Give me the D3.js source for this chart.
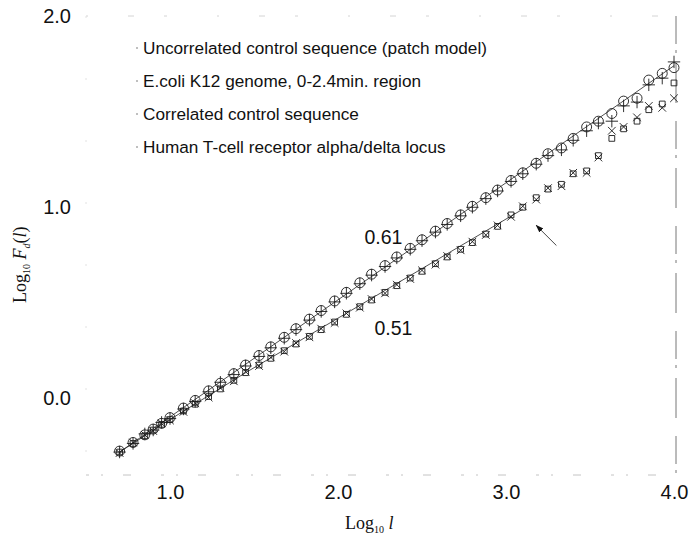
<!DOCTYPE html>
<html>
<head>
<meta charset="utf-8">
<script src="https://cdn.jsdelivr.net/npm/d3@7"></script>
<style>
  body { margin: 0; background: #fff; }
  svg { display: block; }
  .tick-label { font-family: "Liberation Sans", Arial, sans-serif; font-size: 20px; fill: #111; }
  .legend-text { font-family: "Liberation Sans", Arial, sans-serif; font-size: 17.2px; fill: #111; }
  .axis-title { font-family: "Liberation Serif", "Times New Roman", serif; font-size: 18px; fill: #111; }
  .slope { font-family: "Liberation Sans", Arial, sans-serif; font-size: 19.5px; fill: #111; }
</style>
</head>
<body>
<div id="chart"></div>
<script>
// log10 l for every point
const logL = [0.70, 0.78, 0.85, 0.90, 0.95, 1.00, 1.08, 1.15, 1.23, 1.30,
  1.38, 1.45, 1.53, 1.60, 1.68, 1.75, 1.83, 1.90, 1.98, 2.05,
  2.13, 2.20, 2.28, 2.35, 2.43, 2.50, 2.58, 2.65, 2.73, 2.80,
  2.88, 2.95, 3.03, 3.10, 3.18, 3.25, 3.33, 3.40, 3.48, 3.55,
  3.63, 3.70, 3.78, 3.85, 3.93, 4.00]

// log10 F_d(l)
const uncorrelated = [-0.28, -0.235, -0.195, -0.165, -0.135, -0.11, -0.065, -0.03, 0.01, 0.05,
  0.095, 0.135, 0.175, 0.21, 0.25, 0.285, 0.325, 0.36, 0.40, 0.44,
  0.48, 0.515, 0.555, 0.59, 0.63, 0.665, 0.705, 0.74, 0.78, 0.815,
  0.86, 0.90, 0.96, 1.00, 1.05, 1.095, 1.12, 1.175, 1.19, 1.27,
  1.36, 1.41, 1.45, 1.51, 1.54, 1.65]
const ecoli = [-0.285, -0.23, -0.19, -0.17, -0.13, -0.115, -0.07, -0.025, 0.005, 0.055,
  0.09, 0.14, 0.17, 0.215, 0.245, 0.29, 0.32, 0.365, 0.395, 0.445,
  0.475, 0.52, 0.55, 0.595, 0.625, 0.67, 0.70, 0.745, 0.775, 0.82,
  0.855, 0.905, 0.95, 1.005, 1.04, 1.10, 1.11, 1.18, 1.18, 1.26,
  1.40, 1.42, 1.47, 1.53, 1.52, 1.57]
const correlated = [-0.275, -0.23, -0.19, -0.16, -0.13, -0.10, -0.05, -0.01, 0.04, 0.08,
  0.13, 0.175, 0.225, 0.27, 0.32, 0.365, 0.415, 0.46, 0.51, 0.555,
  0.605, 0.65, 0.695, 0.74, 0.785, 0.83, 0.875, 0.915, 0.96, 1.005,
  1.05, 1.09, 1.14, 1.18, 1.23, 1.28, 1.31, 1.36, 1.42, 1.45,
  1.49, 1.555, 1.57, 1.665, 1.70, 1.73]
const human = [-0.28, -0.235, -0.185, -0.165, -0.125, -0.105, -0.055, -0.015, 0.035, 0.085,
  0.125, 0.17, 0.22, 0.265, 0.315, 0.36, 0.41, 0.455, 0.505, 0.55,
  0.60, 0.645, 0.69, 0.735, 0.78, 0.825, 0.87, 0.91, 0.955, 1.00,
  1.045, 1.085, 1.135, 1.175, 1.225, 1.27, 1.30, 1.35, 1.40, 1.44,
  1.45, 1.53, 1.55, 1.64, 1.675, 1.76]

const seriesNames = [
  "Uncorrelated control sequence (patch model)",
  "E.coli K12 genome, 0-2.4min. region",
  "Correlated control sequence",
  "Human T-cell receptor alpha/delta locus"
]

// straight fits drawn through the two groups
const fitUpperX = [0.70, 4.00]
const fitUpperY = [-0.28, 1.74]
const fitLowerX = [0.70, 1.00, 1.45, 3.10]
const fitLowerY = [-0.28, -0.11, 0.135, 0.99]
const slopeLabels = ["0.61", "0.51"]

const xTicks = [1, 2, 3, 4]
const yTicks = [0, 1, 2]

async function drawChart() {

  const dimensions = {
    width: 691,
    height: 539,
    margin: { top: 16, right: 15, bottom: 64, left: 86 },
  }
  dimensions.boundedWidth = dimensions.width - dimensions.margin.left - dimensions.margin.right
  dimensions.boundedHeight = dimensions.height - dimensions.margin.top - dimensions.margin.bottom

  const wrapper = d3.select("#chart")
    .append("svg")
      .attr("width", dimensions.width)
      .attr("height", dimensions.height)

  const bounds = wrapper.append("g")
    .attr("transform", `translate(${dimensions.margin.left},${dimensions.margin.top})`)

  const xScale = d3.scaleLinear()
    .domain([0.5, 4.0])
    .range([0, dimensions.boundedWidth - 2])

  const yScale = d3.scaleLinear()
    .domain([-0.4, 2.0])
    .range([dimensions.boundedHeight, 0])

  // faded frame, like the scan
  const W = dimensions.boundedWidth, H = dimensions.boundedHeight
  const frame = [
    { x1: 0, y1: 0, x2: W, y2: 0, color: "#d4d4d4", dash: "2 40 6 30 3 50" },
    { x1: 0, y1: H, x2: W, y2: H, color: "#c4c4c4", dash: "3 12 2 20 8 30" },
    { x1: 0, y1: 0, x2: 0, y2: H, color: "#e2e2e2", dash: "2 60" },
    { x1: W, y1: 0, x2: W, y2: H, color: "#777", dash: "28 6 3 10 40 18" },
  ]
  bounds.selectAll(".frame")
    .data(frame)
    .join("line")
      .attr("class", "frame")
      .attr("x1", d => d.x1).attr("x2", d => d.x2)
      .attr("y1", d => d.y1).attr("y2", d => d.y2)
      .attr("stroke", d => d.color)
      .attr("stroke-dasharray", d => d.dash)
      .attr("stroke-width", 1)

  // axes: only the labels really survive in the original
  const xAxis = bounds.append("g")
    .attr("transform", `translate(0,${H})`)
    .call(d3.axisBottom(xScale).tickValues(xTicks).tickFormat(d3.format(".1f")).tickSize(0).tickPadding(10))
  const yAxis = bounds.append("g")
    .call(d3.axisLeft(yScale).tickValues(yTicks).tickFormat(d3.format(".1f")).tickSize(0).tickPadding(15))
  for (const ax of [xAxis, yAxis]) {
    ax.select(".domain").remove()
    ax.attr("font-family", null).attr("font-size", null)
    ax.selectAll("text").attr("class", "tick-label").attr("fill", null)
  }

  // fit lines
  const line = d3.line()
    .x(d => xScale(d[0]))
    .y(d => yScale(d[1]))
  bounds.append("path")
    .attr("d", line(d3.zip(fitUpperX, fitUpperY)))
    .attr("fill", "none")
    .attr("stroke", "#222")
    .attr("stroke-width", 0.8)
  bounds.append("path")
    .attr("d", line(d3.zip(fitLowerX, fitLowerY)))
    .attr("fill", "none")
    .attr("stroke", "#222")
    .attr("stroke-width", 0.8)

  // markers
  const shapes = [
    { values: uncorrelated, type: d3.symbolSquare2, size: 42 },
    { values: ecoli, type: d3.symbolX, size: 40 },
    { values: correlated, type: d3.symbolCircle, size: 78 },
    { values: human, type: d3.symbolPlus, size: 52 },
  ]
  shapes.forEach(s => {
    bounds.append("g")
      .selectAll("path")
      .data(d3.zip(logL, s.values))
      .join("path")
        .attr("transform", d => `translate(${xScale(d[0])},${yScale(d[1])})`)
        .attr("d", d3.symbol(s.type, s.size))
        .attr("fill", "none")
        .attr("stroke", "#1a1a1a")
        .attr("stroke-width", 0.9)
  })

  // legend (symbols have almost vanished in the scan)
  const legend = bounds.append("g")
  seriesNames.forEach((name, i) => {
    const y = 32 + i * 33
    legend.append("circle")
      .attr("cx", 51)
      .attr("cy", y)
      .attr("r", 1)
      .attr("fill", "#aaa")
    legend.append("text")
      .attr("class", "legend-text")
      .attr("x", 57)
      .attr("y", y)
      .attr("dy", "0.35em")
      .text(name)
  })

  // slope labels
  bounds.append("text")
    .attr("class", "slope")
    .attr("x", xScale(2.27))
    .attr("y", yScale(0.845))
    .attr("text-anchor", "middle")
    .attr("dy", "0.35em")
    .text(slopeLabels[0])
  bounds.append("text")
    .attr("class", "slope")
    .attr("x", xScale(2.33))
    .attr("y", yScale(0.37))
    .attr("text-anchor", "middle")
    .attr("dy", "0.35em")
    .text(slopeLabels[1])

  // arrow pointing at the crossover
  wrapper.append("defs").append("marker")
    .attr("id", "head")
    .attr("viewBox", "0 0 10 10")
    .attr("refX", 9).attr("refY", 5)
    .attr("markerWidth", 9).attr("markerHeight", 9)
    .attr("orient", "auto")
    .append("path")
      .attr("d", "M0,1.5 L10,5 L0,8.5 Z")
      .attr("fill", "#111")
  bounds.append("line")
    .attr("x1", xScale(3.30)).attr("y1", yScale(0.80))
    .attr("x2", xScale(3.18)).attr("y2", yScale(0.905))
    .attr("stroke", "#333")
    .attr("stroke-width", 0.9)
    .attr("marker-end", "url(#head)")

  // axis titles
  const xTitle = wrapper.append("text")
    .attr("class", "axis-title")
    .attr("x", 345)
    .attr("y", 529)
  xTitle.append("tspan").text("Log")
  xTitle.append("tspan").attr("font-size", 10).attr("dy", 4).text("10")
  xTitle.append("tspan").attr("dy", -4).text(" ")
  xTitle.append("tspan").attr("font-style", "italic").text("l")

  const yTitle = wrapper.append("text")
    .attr("class", "axis-title")
    .attr("transform", "translate(26,303) rotate(-90)")
  yTitle.append("tspan").text("Log")
  yTitle.append("tspan").attr("font-size", 10).attr("dy", 4).text("10")
  yTitle.append("tspan").attr("dy", -4).text(" ")
  yTitle.append("tspan").attr("font-style", "italic").text("F")
  yTitle.append("tspan").attr("font-size", 10).attr("font-style", "italic").attr("dy", 4).text("d")
  yTitle.append("tspan").attr("dy", -4).text("(")
  yTitle.append("tspan").attr("font-style", "italic").text("l")
  yTitle.append("tspan").text(")")
}

drawChart()
</script>
</body>
</html>
